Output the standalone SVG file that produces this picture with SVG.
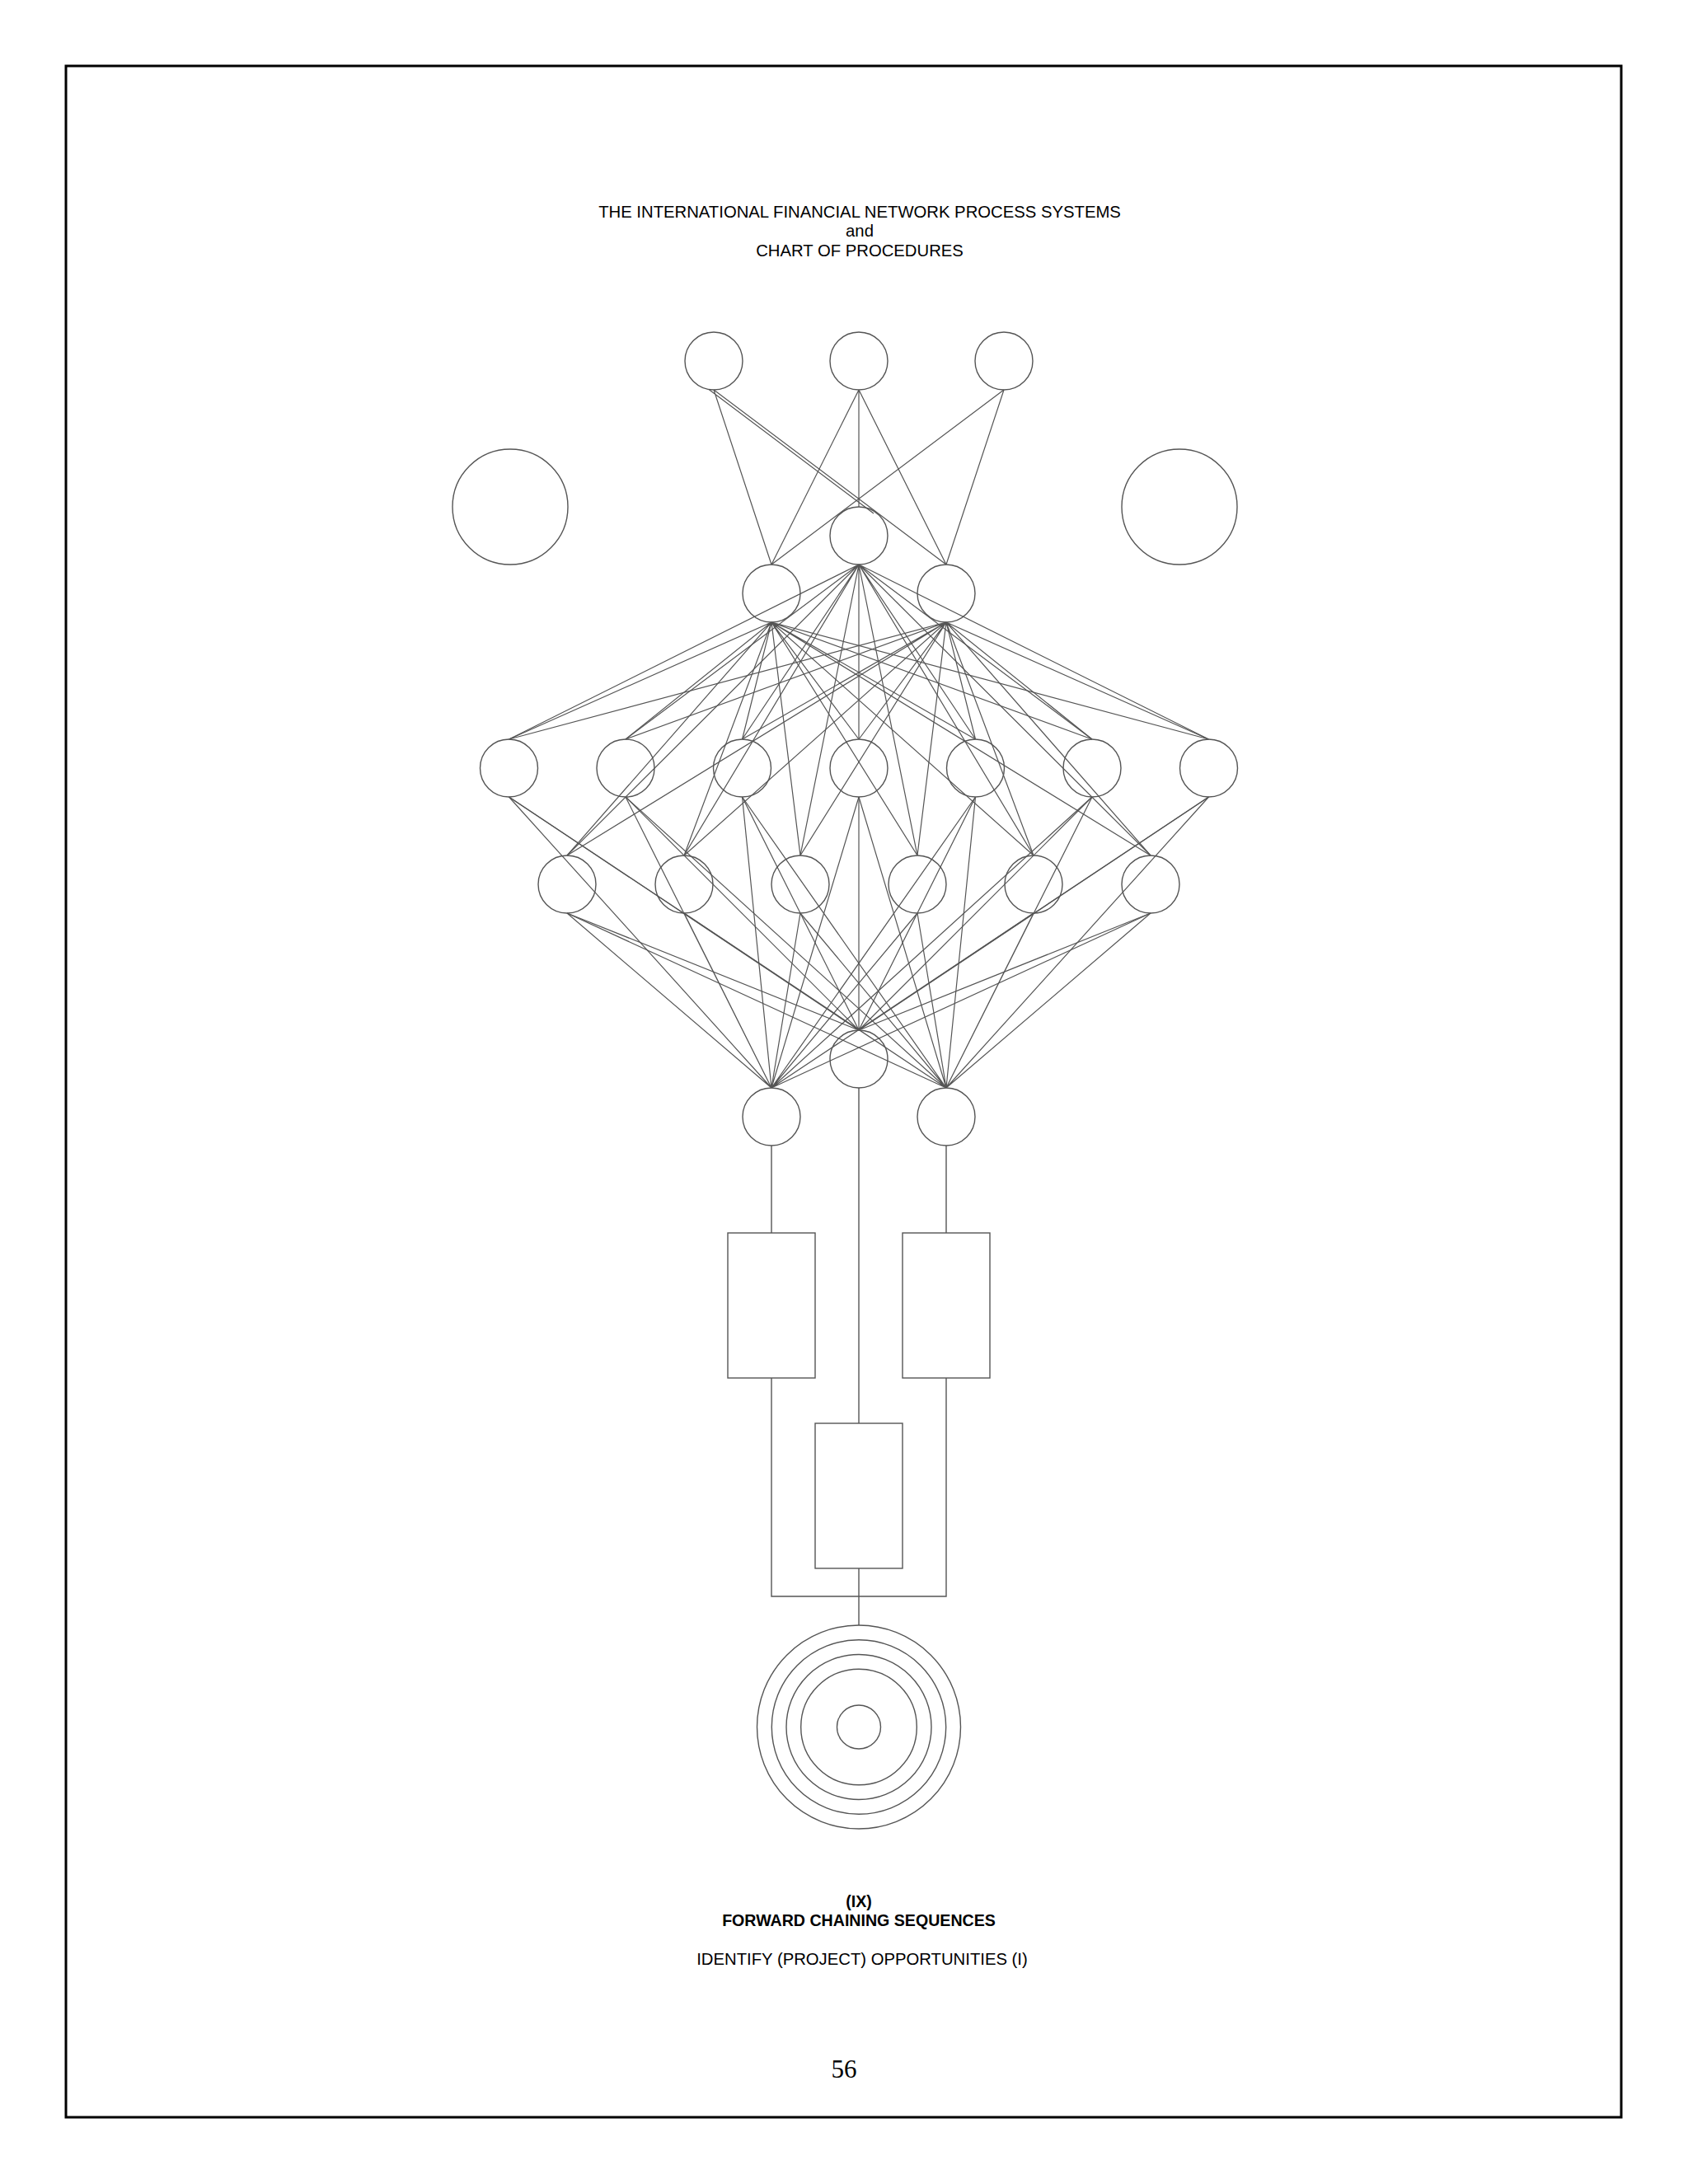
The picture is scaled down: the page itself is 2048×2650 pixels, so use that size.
<svg xmlns="http://www.w3.org/2000/svg" width="2048" height="2650" viewBox="0 0 2048 2650">
<style>
.n{fill:none;stroke:#555;stroke-width:1.4}
.c{fill:none;stroke:#555;stroke-width:1.2}
.t{font-family:"Liberation Sans",Arial,sans-serif;fill:#000;text-anchor:middle}
.b{font-weight:bold}
</style>
<rect x="0" y="0" width="2048" height="2650" fill="#fff"/>
<rect id="border" x="80" y="80" width="1887" height="2489" fill="none" stroke="#000" stroke-width="3"/>
<g id="title">
<text class="t" x="1043" y="264" font-size="20.3">THE INTERNATIONAL FINANCIAL NETWORK PROCESS SYSTEMS</text>
<text class="t" x="1043" y="287" font-size="20.3">and</text>
<text class="t" x="1043" y="311" font-size="20.3">CHART OF PROCEDURES</text>
</g>
<g id="connectors">
<path class="c" d="M866 473L936 685M866 473L1148 685M860 472.5L1060 623M1042 473L936 685M1042 473L1042 615M1042 473L1148 685M1218 473L936 685M1218 473L1148 685"/>
<path class="c" d="M936 755L617.5 897M936 755L759 897M936 755L900.5 897M936 755L1042 897M936 755L1183.5 897M936 755L1325 897M936 755L1466.5 897M936 755L688 1038M936 755L830 1038M936 755L971 1038M936 755L1113 1038M936 755L1254 1038M936 755L1396 1038"/>
<path class="c" d="M1042 685L617.5 897M1042 685L759 897M1042 685L900.5 897M1042 685L1042 897M1042 685L1183.5 897M1042 685L1325 897M1042 685L1466.5 897M1042 685L688 1038M1042 685L830 1038M1042 685L971 1038M1042 685L1113 1038M1042 685L1254 1038M1042 685L1396 1038"/>
<path class="c" d="M1148 755L617.5 897M1148 755L759 897M1148 755L900.5 897M1148 755L1042 897M1148 755L1183.5 897M1148 755L1325 897M1148 755L1466.5 897M1148 755L688 1038M1148 755L830 1038M1148 755L971 1038M1148 755L1113 1038M1148 755L1254 1038M1148 755L1396 1038"/>
<path class="c" d="M617.5 967L936 1320M759 967L936 1320M900.5 967L936 1320M1042 967L936 1320M1183.5 967L936 1320M1325 967L936 1320M1466.5 967L936 1320M688 1108L936 1320M830 1108L936 1320M971 1108L936 1320M1113 1108L936 1320M1254 1108L936 1320M1396 1108L936 1320"/>
<path class="c" d="M617.5 967L1042 1250M759 967L1042 1250M900.5 967L1042 1250M1042 967L1042 1250M1183.5 967L1042 1250M1325 967L1042 1250M1466.5 967L1042 1250M688 1108L1042 1250M830 1108L1042 1250M971 1108L1042 1250M1113 1108L1042 1250M1254 1108L1042 1250M1396 1108L1042 1250"/>
<path class="c" d="M617.5 967L1148 1320M759 967L1148 1320M900.5 967L1148 1320M1042 967L1148 1320M1183.5 967L1148 1320M1325 967L1148 1320M1466.5 967L1148 1320M688 1108L1148 1320M830 1108L1148 1320M971 1108L1148 1320M1113 1108L1148 1320M1254 1108L1148 1320M1396 1108L1148 1320"/>
<path class="n" d="M936 1390V1496M1042 1320V1727M1148 1390V1496M936 1672V1937H1148V1672M1042 1903V1972"/>
</g>
<g id="top-1"><circle class="n" cx="866" cy="438" r="35"/></g>
<g id="top-2"><circle class="n" cx="1042" cy="438" r="35"/></g>
<g id="top-3"><circle class="n" cx="1218" cy="438" r="35"/></g>
<g id="side-left"><circle class="n" cx="619" cy="615" r="70"/></g>
<g id="side-right"><circle class="n" cx="1431" cy="615" r="70"/></g>
<g id="mid-top"><circle class="n" cx="1042" cy="650" r="35"/></g>
<g id="l2-left"><circle class="n" cx="936" cy="720" r="35"/></g>
<g id="l2-right"><circle class="n" cx="1148" cy="720" r="35"/></g>
<g id="l3-1"><circle class="n" cx="617.5" cy="932" r="35"/></g>
<g id="l3-2"><circle class="n" cx="759" cy="932" r="35"/></g>
<g id="l3-3"><circle class="n" cx="900.5" cy="932" r="35"/></g>
<g id="l3-4"><circle class="n" cx="1042" cy="932" r="35"/></g>
<g id="l3-5"><circle class="n" cx="1183.5" cy="932" r="35"/></g>
<g id="l3-6"><circle class="n" cx="1325" cy="932" r="35"/></g>
<g id="l3-7"><circle class="n" cx="1466.5" cy="932" r="35"/></g>
<g id="l4-1"><circle class="n" cx="688" cy="1073" r="35"/></g>
<g id="l4-2"><circle class="n" cx="830" cy="1073" r="35"/></g>
<g id="l4-3"><circle class="n" cx="971" cy="1073" r="35"/></g>
<g id="l4-4"><circle class="n" cx="1113" cy="1073" r="35"/></g>
<g id="l4-5"><circle class="n" cx="1254" cy="1073" r="35"/></g>
<g id="l4-6"><circle class="n" cx="1396" cy="1073" r="35"/></g>
<g id="mid-bottom"><circle class="n" cx="1042" cy="1285" r="35"/></g>
<g id="l5-left"><circle class="n" cx="936" cy="1355" r="35"/></g>
<g id="l5-right"><circle class="n" cx="1148" cy="1355" r="35"/></g>
<g id="box-left"><rect class="n" x="883" y="1496" width="106" height="176"/></g>
<g id="box-right"><rect class="n" x="1095" y="1496" width="106" height="176"/></g>
<g id="box-mid"><rect class="n" x="989" y="1727" width="106" height="176"/></g>
<g id="target">
<circle class="n" cx="1042" cy="2095.5" r="123.5"/>
<circle class="n" cx="1042" cy="2095.5" r="105.7"/>
<circle class="n" cx="1042" cy="2095.5" r="88"/>
<circle class="n" cx="1042" cy="2095.5" r="70.3"/>
<circle class="n" cx="1042" cy="2095.5" r="26.5"/>
</g>
<g id="caption">
<text class="t b" x="1042" y="2314" font-size="19.6">(IX)</text>
<text class="t b" x="1042" y="2337" font-size="19.6">FORWARD CHAINING SEQUENCES</text>
<text class="t" x="1046" y="2384" font-size="20.3">IDENTIFY (PROJECT) OPPORTUNITIES (I)</text>
<text x="1024" y="2521" font-size="31" font-family="'Liberation Serif','Times New Roman',serif" text-anchor="middle">56</text>
</g>
</svg>
